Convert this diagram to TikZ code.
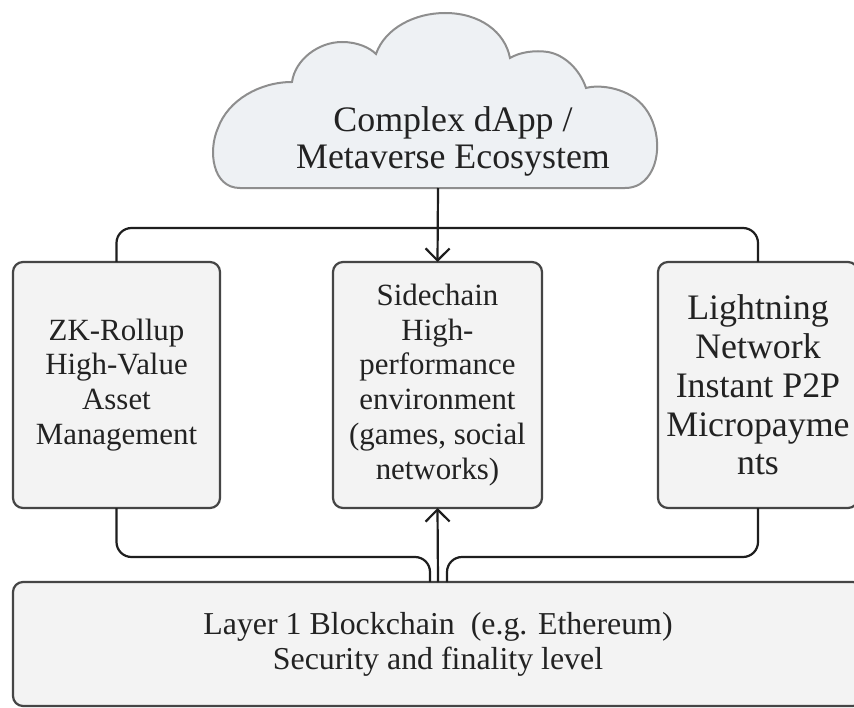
\documentclass[tikz,border=0pt]{standalone}
\usepackage{fontspec}
\setmainfont{Liberation Serif}
\usetikzlibrary{arrows.meta}
\definecolor{boxfill}{HTML}{F3F3F3}
\definecolor{boxline}{HTML}{454545}
\definecolor{cloudfill}{HTML}{EEF1F4}
\definecolor{cloudline}{HTML}{8E8E8E}
\definecolor{conncol}{HTML}{1E1E1E}
\definecolor{txtcol}{HTML}{222222}
\begin{document}
\begin{tikzpicture}[x=1bp,y=-1bp,
  box/.style={draw=boxline, fill=boxfill, line width=2.2bp, rounded corners=10bp,
    inner sep=0pt, outer sep=0pt, align=center, text=txtcol},
  conn/.style={draw=conncol, line width=2.2bp, rounded corners=15bp},
  straight/.style={draw=conncol, line width=2.2bp, sharp corners},
  tipend/.style={-{Straight Barb[length=12bp,width=24bp]}}
]
\clip (0,0) rectangle (854,708);
\fill[white] (0,0) rectangle (854,708);
% cloud
\draw[fill=cloudfill, draw=cloudline, line width=2bp]
  (240,188) .. controls (212,188) and (208,150) .. (218,128)
  .. controls (228,100) and (260,82) .. (292,82)
  .. controls (295,60) and (318,42) .. (342,42)
  .. controls (358,42) and (370,48) .. (376,54)
  .. controls (385,28) and (415,13) .. (445,13)
  .. controls (480,13) and (505,32) .. (510,58)
  .. controls (520,52) and (535,50) .. (548,52)
  .. controls (565,55) and (580,70) .. (586,88)
  .. controls (600,84) and (630,88) .. (645,108)
  .. controls (662,130) and (662,170) .. (640,184)
  .. controls (635,187) and (630,188) .. (625,188)
  -- cycle;
\node[font=\fontsize{36}{37}\selectfont, align=center, text=txtcol] (cloudtxt) at (453,141) {Complex dApp /\\Metaverse Ecosystem};
\coordinate (cloudb) at (438,188);
\coordinate (top) at (438,228);
% boxes
\node[box, minimum width=207bp, minimum height=246bp, font=\fontsize{31}{35}\selectfont] (zk) at (116.5,385)
  {ZK-Rollup\\High-Value\\Asset\\Management};
\node[box, minimum width=209bp, minimum height=246bp, font=\fontsize{31}{35}\selectfont] (sc) at (437.5,385)
  {Sidechain\\High-\\performance\\environment\\(games, social\\networks)};
\node[box, minimum width=200bp, minimum height=246bp, font=\fontsize{36}{39}\selectfont] (ln) at (758,385)
  {Lightning\\Network\\Instant P2P\\Micropayme\\nts};
\node[box, minimum width=850bp, minimum height=124bp, font=\fontsize{32}{35}\selectfont] (l1) at (438,644)
  {Layer 1 Blockchain~~(e.g. Ethereum)\\Security and finality level};
% connectors top
\draw[conn] (zk.north) |- (top) -| (ln.north);
\draw[straight, tipend] (cloudb) -- (sc.north);
% connectors bottom
\coordinate (bl) at (430,582);
\coordinate (blh) at (430,557);
\coordinate (br) at (447,582);
\coordinate (brh) at (447,557);
\draw[conn] (zk.south) |- (blh) -- (bl);
\draw[conn] (ln.south) |- (brh) -- (br);
\draw[straight, tipend] (l1.north) -- (sc.south);
\end{tikzpicture}
\end{document}
